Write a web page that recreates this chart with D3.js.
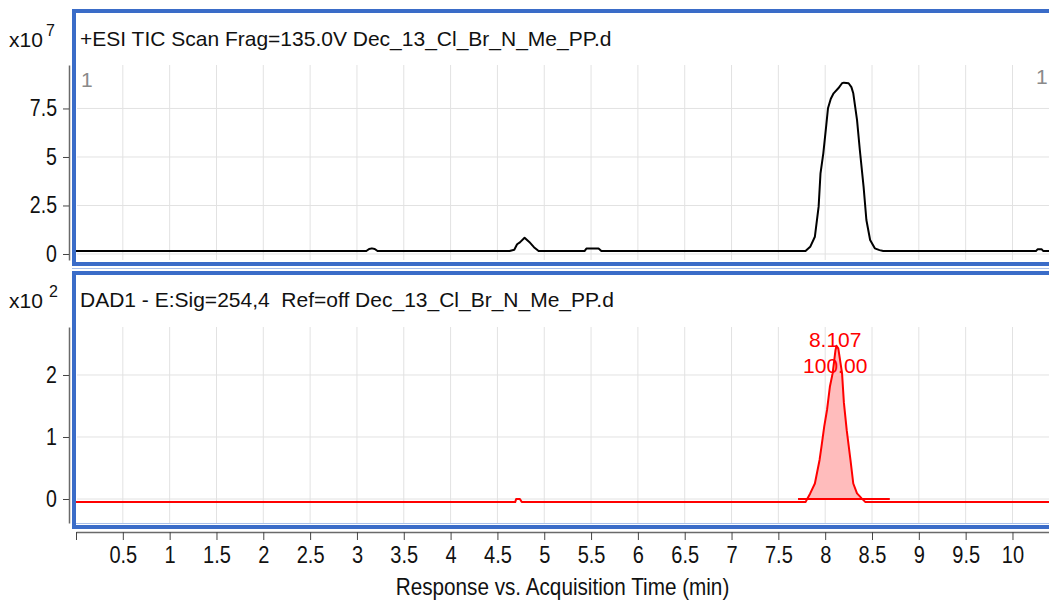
<!DOCTYPE html>
<html>
<head>
<meta charset="utf-8">
<script src="https://cdn.jsdelivr.net/npm/d3@7"></script>
<style>
  html, body { margin: 0; padding: 0; background: #fff; }
  svg { display: block; font-family: "Liberation Sans", Arial, sans-serif; }
  text { white-space: pre; }
</style>
</head>
<body>
<svg id="chart" width="1049" height="604"></svg>
<script>
// ---------------- DATA ----------------
const ticTitle = "+ESI TIC Scan Frag=135.0V Dec_13_Cl_Br_N_Me_PP.d";
const dadTitle = "DAD1 - E:Sig=254,4  Ref=off Dec_13_Cl_Br_N_Me_PP.d";
const xAxisTitle = "Response vs. Acquisition Time (min)";
const ticExponent = "7";
const dadExponent = "2";

// TIC trace (x10^7 counts) vs time (min)
const ticTime = [0.0, 3.10, 3.13, 3.16, 3.19, 3.22, 4.63, 4.68, 4.71, 4.74, 4.79, 4.84, 4.89, 4.94,
  5.43, 5.45, 5.58, 5.61, 7.79, 7.84, 7.89, 7.93, 7.95, 7.98, 8.01, 8.03, 8.06, 8.09, 8.14, 8.18,
  8.20, 8.25, 8.28, 8.30, 8.34, 8.37, 8.41, 8.44, 8.48, 8.53, 8.58, 8.62, 10.25, 10.27, 10.31, 10.33, 10.39];
const ticValue = [0.15, 0.15, 0.26, 0.29, 0.26, 0.15, 0.15, 0.22, 0.50, 0.60, 0.84, 0.62, 0.35, 0.15,
  0.15, 0.28, 0.28, 0.15, 0.15, 0.37, 0.89, 2.44, 4.16, 5.19, 6.56, 7.51, 8.00, 8.28, 8.54, 8.80,
  8.83, 8.80, 8.60, 8.28, 6.91, 5.36, 3.47, 1.75, 0.72, 0.29, 0.20, 0.15, 0.15, 0.25, 0.25, 0.15, 0.15];

// DAD trace (x10^2 mAU) vs time (min)
const dadTime = [0.0, 4.69, 4.70, 4.74, 4.76, 7.79, 7.84, 7.89, 7.94, 7.96, 7.99, 8.02, 8.05, 8.08,
  8.11, 8.12, 8.14, 8.18, 8.20, 8.23, 8.27, 8.30, 8.34, 8.39, 8.43, 10.39];
const dadValue = [-0.05, -0.05, 0.0, 0.0, -0.05, -0.05, 0.09, 0.25, 0.63, 0.84, 1.17, 1.44, 1.81, 2.03,
  2.40, 2.47, 2.43, 2.03, 1.55, 1.11, 0.63, 0.25, 0.09, 0.01, -0.05, -0.05];

// integrated peak
const peakStart = 7.71, peakEnd = 8.69, peakBase = 0.0;
const peakRT = 8.107;
const peakLabels = ["8.107", "100.00"];

// ticks
const xTicks = [0, 0.5, 1, 1.5, 2, 2.5, 3, 3.5, 4, 4.5, 5, 5.5, 6, 6.5, 7, 7.5, 8, 8.5, 9, 9.5, 10];
const xTickLabels = ["", "0.5", "1", "1.5", "2", "2.5", "3", "3.5", "4", "4.5", "5", "5.5", "6", "6.5", "7", "7.5", "8", "8.5", "9", "9.5", "10"];
const ticYTicks = [0, 2.5, 5, 7.5];
const ticYTickLabels = ["0", "2.5", "5", "7.5"];
const dadYTicks = [0, 1, 2];
const dadYTickLabels = ["0", "1", "2"];

// ---------------- DRAW ----------------
const svg = d3.select("#chart");
const BLUE = "#3a6cc8";
const GRID = "#e2e2e2";
const AXIS = "#6a6a6a";

const x = d3.scaleLinear().domain([0, 10.39]).range([76, 1049]);
const yTic = d3.scaleLinear().domain([-0.31, 9.74]).range([260, 65]);
const yDad = d3.scaleLinear().domain([-0.387, 2.774]).range([523, 327]);

function grid(y, yTicks) {
  const g = svg.append("g");
  const [yb, yt] = y.range();
  g.selectAll("line.v").data(xTicks.filter(t => t > 0)).join("line")
    .attr("x1", d => x(d)).attr("x2", d => x(d)).attr("y1", yt).attr("y2", yb)
    .attr("stroke", GRID).attr("stroke-width", 1);
  g.selectAll("line.h").data(yTicks).join("line")
    .attr("x1", 77).attr("x2", 1049).attr("y1", d => y(d)).attr("y2", d => y(d))
    .attr("stroke", GRID).attr("stroke-width", 1);
}
grid(yTic, ticYTicks);
grid(yDad, dadYTicks);

function leftAxis(y, ticks, labels) {
  const g = svg.append("g").attr("transform", "translate(69,0)")
    .call(d3.axisLeft(y).tickValues(ticks).tickSize(6).tickSizeOuter(0)
      .tickFormat((d, i) => labels[i]));
  g.select(".domain").attr("stroke", AXIS).attr("stroke-width", 1.5);
  g.selectAll(".tick line").attr("stroke", "#444");
  g.selectAll(".tick text").attr("x", null)
    .attr("transform", "translate(-12,0) scale(0.85,1)")
    .attr("font-size", 23).attr("fill", "#111")
    .attr("font-family", "'Liberation Sans', Arial, sans-serif");
}
leftAxis(yTic, ticYTicks, ticYTickLabels);
leftAxis(yDad, dadYTicks, dadYTickLabels);

// bottom axis
const xa = svg.append("g").attr("transform", "translate(0,532)")
  .call(d3.axisBottom(x).tickValues(xTicks).tickSize(8).tickPadding(7).tickSizeOuter(0)
    .tickFormat((d, i) => xTickLabels[i]));
xa.select(".domain").attr("stroke", AXIS).attr("stroke-width", 1.5);
xa.selectAll(".tick line").attr("stroke", "#444");
xa.selectAll(".tick text").attr("transform", "scale(0.87,1)").attr("x", 0)
  .attr("font-size", 23).attr("fill", "#111")
  .attr("font-family", "'Liberation Sans', Arial, sans-serif");

svg.append("text").attr("transform", `translate(${(76 + 1049) / 2},594.5) scale(0.9,1)`)
  .attr("text-anchor", "middle").attr("font-size", 23).attr("fill", "#111").text(xAxisTitle);

// traces
const ticData = ticTime.map((t, i) => ({ t, v: ticValue[i] }));
const dadData = dadTime.map((t, i) => ({ t, v: dadValue[i] }));

svg.append("path").datum(ticData)
  .attr("fill", "none").attr("stroke", "#000").attr("stroke-width", 2).attr("stroke-linejoin", "round")
  .attr("d", d3.line().x(d => x(d.t)).y(d => yTic(d.v)));

// filled integrated peak
const peakData = dadData.filter(d => d.t >= 7.79 && d.t <= 8.43);
svg.append("path").datum(peakData)
  .attr("fill", "#ffbcbc").attr("stroke", "none")
  .attr("d", d3.area().x(d => x(d.t)).y0(yDad(peakBase)).y1(d => yDad(Math.max(d.v, peakBase))));

svg.append("line").attr("x1", x(peakStart)).attr("x2", x(peakEnd))
  .attr("y1", yDad(peakBase)).attr("y2", yDad(peakBase))
  .attr("stroke", "#ff0000").attr("stroke-width", 1.8);

svg.append("path").datum(dadData)
  .attr("fill", "none").attr("stroke", "#ff0000").attr("stroke-width", 2).attr("stroke-linejoin", "round")
  .attr("d", d3.line().x(d => x(d.t)).y(d => yDad(d.v)));

// peak annotation
svg.append("text").attr("x", x(peakRT)).attr("y", 347).attr("text-anchor", "middle")
  .attr("font-size", 21).attr("fill", "#ff0000").text(peakLabels[0]);
svg.append("text").attr("x", x(peakRT)).attr("y", 373).attr("text-anchor", "middle")
  .attr("font-size", 21).attr("fill", "#ff0000").text(peakLabels[1]);

// "1" markers
svg.append("text").attr("x", 81).attr("y", 87).attr("font-size", 21).attr("fill", "#8a8a8a").text("1");
svg.append("text").attr("x", 1036).attr("y", 84).attr("font-size", 21).attr("fill", "#8a8a8a").text("1");

// frames
svg.append("line").attr("x1", 72).attr("x2", 1049).attr("y1", 268.5).attr("y2", 268.5)
  .attr("stroke", "#a8c0ea").attr("stroke-width", 1.2);
svg.append("line").attr("x1", 76).attr("x2", 1049).attr("y1", 523.5).attr("y2", 523.5)
  .attr("stroke", "#a8c0ea").attr("stroke-width", 1.2);
svg.append("rect").attr("x", 74).attr("y", 11).attr("width", 1000).attr("height", 253)
  .attr("fill", "none").attr("stroke", BLUE).attr("stroke-width", 4);
svg.append("rect").attr("x", 74).attr("y", 273).attr("width", 1000).attr("height", 254)
  .attr("fill", "none").attr("stroke", BLUE).attr("stroke-width", 4);

// titles
svg.append("text").attr("x", 80).attr("y", 46).attr("font-size", 21).attr("fill", "#111").text(ticTitle);
svg.append("text").attr("x", 80).attr("y", 307).attr("font-size", 21).attr("fill", "#111").text(dadTitle);

// exponent labels
function expo(y, sup, supX) {
  svg.append("text").attr("x", 9).attr("y", y).attr("font-size", 21).attr("fill", "#111").text("x10");
  svg.append("text").attr("x", supX).attr("y", y - 11).attr("font-size", 16).attr("fill", "#111").text(sup);
}
expo(47, ticExponent, 46);
expo(308, dadExponent, 49);
</script>
</body>
</html>
